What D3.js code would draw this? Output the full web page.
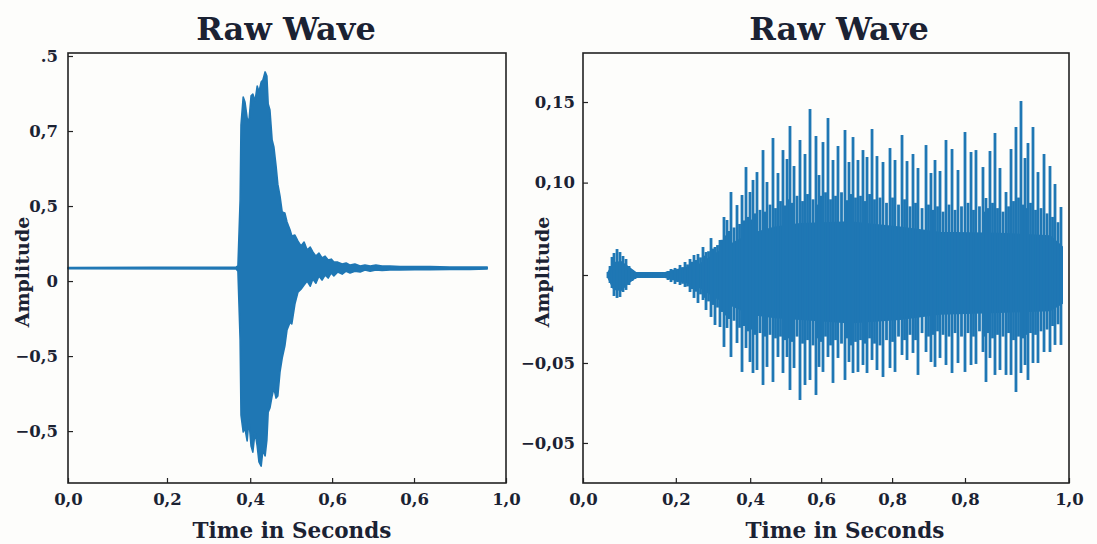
<!DOCTYPE html>
<html>
<head>
<meta charset="utf-8">
<script src="https://cdn.jsdelivr.net/npm/d3@7/dist/d3.min.js"></script>
<style>
  body { margin: 0; background: #fdfdfb; }
  svg { display: block; }
  text { font-family: 'DejaVu Serif', serif; font-weight: bold; fill: #1b2233; }
</style>
</head>
<body>
<svg id="chart" width="1097" height="544"></svg>
<script>
// left panel: peak (min/max) data per time bin
const leftTime = [0, 0.384, 0.388, 0.393, 0.395, 0.400, 0.404, 0.409, 0.413, 0.418,
  0.422, 0.427, 0.432, 0.436, 0.441, 0.445, 0.450, 0.454, 0.457, 0.461,
  0.466, 0.470, 0.475, 0.479, 0.484, 0.489, 0.495, 0.500, 0.507, 0.511,
  0.518, 0.525, 0.532, 0.539, 0.546, 0.553, 0.559, 0.566, 0.573, 0.580,
  0.587, 0.594, 0.601, 0.607, 0.616, 0.626, 0.635, 0.644, 0.655, 0.667,
  0.678, 0.690, 0.703, 0.717, 0.735, 0.758, 0.792, 0.827, 0.872, 0.918, 0.957];
const leftHigh = [0.045, 0.047, 0.050, 0.270, 0.520, 0.613, 0.597, 0.543, 0.530, 0.617,
  0.623, 0.600, 0.650, 0.630, 0.663, 0.670, 0.697, 0.683, 0.590, 0.570,
  0.470, 0.447, 0.383, 0.323, 0.283, 0.230, 0.227, 0.197, 0.170, 0.150,
  0.153, 0.133, 0.117, 0.130, 0.103, 0.113, 0.097, 0.083, 0.093, 0.077,
  0.083, 0.070, 0.073, 0.063, 0.063, 0.057, 0.060, 0.053, 0.057, 0.050,
  0.053, 0.050, 0.053, 0.050, 0.050, 0.048, 0.048, 0.048, 0.047, 0.047, 0.047];
const leftLow = [0.041, 0.040, 0.033, -0.197, -0.447, -0.503, -0.490, -0.533, -0.463, -0.550,
  -0.570, -0.503, -0.550, -0.603, -0.617, -0.563, -0.583, -0.530, -0.437, -0.423,
  -0.383, -0.357, -0.390, -0.383, -0.303, -0.257, -0.217, -0.163, -0.137, -0.143,
  -0.077, -0.037, -0.027, -0.013, 0.000, -0.017, 0.007, -0.007, 0.017, 0.003,
  0.020, 0.010, 0.027, 0.017, 0.030, 0.023, 0.033, 0.027, 0.033, 0.030,
  0.037, 0.033, 0.037, 0.035, 0.037, 0.037, 0.038, 0.038, 0.039, 0.039, 0.040];

// right panel: main spike peaks
const rightTime = [0.0514, 0.0556, 0.0597, 0.0638, 0.0700, 0.0761, 0.0823, 0.0885, 0.0947, 0.1008,
  0.1070, 0.1152, 0.1255, 0.1358, 0.1461, 0.1564, 0.1667, 0.1749, 0.1811, 0.1893,
  0.1996, 0.2099, 0.2202, 0.2284, 0.2366, 0.2469, 0.2531, 0.2634, 0.2716, 0.2819,
  0.2901, 0.2963, 0.3045, 0.3169, 0.3272, 0.3354, 0.3436, 0.3498, 0.3580, 0.3704,
  0.3786, 0.3909, 0.4012, 0.4115, 0.4198, 0.4259, 0.4342, 0.4465, 0.4568, 0.4671,
  0.4794, 0.4856, 0.4938, 0.5041, 0.5144, 0.5247, 0.5391, 0.5473, 0.5556, 0.5658,
  0.5761, 0.5844, 0.5947, 0.6049, 0.6173, 0.6317, 0.6420, 0.6564, 0.6667, 0.6790,
  0.6893, 0.7058, 0.7160, 0.7243, 0.7346, 0.7469, 0.7593, 0.7716, 0.7860, 0.7984,
  0.8086, 0.8230, 0.8292, 0.8374, 0.8477, 0.8580, 0.8704, 0.8807, 0.8909, 0.9012,
  0.9095, 0.9156, 0.9259, 0.9362, 0.9486, 0.9609, 0.9712, 0.9835];
const rightHigh = [0.0034, 0.0102, 0.0205, 0.0250, 0.0295, 0.0261, 0.0216, 0.0182, 0.0102, 0.0057,
  0.0034, 0.0023, 0.0023, 0.0023, 0.0017, 0.0023, 0.0034, 0.0045, 0.0068, 0.0080,
  0.0114, 0.0148, 0.0182, 0.0227, 0.0239, 0.0318, 0.0261, 0.0420, 0.0318, 0.0398,
  0.0659, 0.0625, 0.0943, 0.0795, 0.0909, 0.1227, 0.0943, 0.1080, 0.1170, 0.1420,
  0.1057, 0.1557, 0.1159, 0.1420, 0.1318, 0.1693, 0.1239, 0.1534, 0.1375, 0.1886,
  0.1580, 0.1136, 0.1511, 0.1784, 0.1307, 0.1466, 0.1648, 0.1284, 0.1568, 0.1307,
  0.1420, 0.1341, 0.1659, 0.1352, 0.1284, 0.1443, 0.1307, 0.1591, 0.1295, 0.1375,
  0.1216, 0.1477, 0.1159, 0.1307, 0.1182, 0.1534, 0.1432, 0.1193, 0.1625, 0.1398,
  0.1420, 0.1227, 0.0875, 0.1409, 0.1614, 0.1216, 0.0943, 0.1432, 0.1682, 0.1977,
  0.1330, 0.1500, 0.1682, 0.1170, 0.1375, 0.1239, 0.1034, 0.0773];
const rightLow = [-0.0034, -0.0091, -0.0148, -0.0239, -0.0261, -0.0250, -0.0193, -0.0170, -0.0114, -0.0068,
  -0.0045, -0.0034, -0.0028, -0.0023, -0.0023, -0.0028, -0.0034, -0.0057, -0.0080, -0.0102,
  -0.0114, -0.0136, -0.0193, -0.0261, -0.0318, -0.0284, -0.0398, -0.0477, -0.0568, -0.0591,
  -0.0818, -0.0602, -0.0932, -0.0773, -0.1102, -0.0830, -0.0989, -0.1114, -0.1080, -0.1250,
  -0.1045, -0.1216, -0.0932, -0.1114, -0.0932, -0.1307, -0.1057, -0.1420, -0.1250, -0.1193,
  -0.1364, -0.1045, -0.1102, -0.0932, -0.1227, -0.0943, -0.1193, -0.0989, -0.1114, -0.1102,
  -0.1023, -0.1114, -0.0966, -0.1080, -0.1159, -0.1057, -0.1102, -0.0909, -0.0966, -0.0886,
  -0.1136, -0.0875, -0.0989, -0.1045, -0.0943, -0.1023, -0.1114, -0.1000, -0.1102, -0.1023,
  -0.1011, -0.0875, -0.1216, -0.0943, -0.1136, -0.1080, -0.1136, -0.1136, -0.1330, -0.1114,
  -0.1023, -0.1193, -0.1000, -0.1000, -0.0875, -0.0875, -0.0795, -0.0795];
// right panel: shorter peaks between the main ones
const minorTime = [0.1780, 0.1852, 0.1945, 0.2048, 0.2151, 0.2243, 0.2325, 0.2418, 0.2500, 0.2583,
  0.2675, 0.2768, 0.2860, 0.2932, 0.3004, 0.3107, 0.3221, 0.3313, 0.3395, 0.3467,
  0.3539, 0.3642, 0.3745, 0.3848, 0.3961, 0.4064, 0.4157, 0.4229, 0.4301, 0.4404,
  0.4517, 0.4620, 0.4733, 0.4825, 0.4897, 0.4990, 0.5093, 0.5196, 0.5319, 0.5432,
  0.5515, 0.5607, 0.5710, 0.5803, 0.5896, 0.5998, 0.6111, 0.6245, 0.6369, 0.6492,
  0.6616, 0.6729, 0.6842, 0.6976, 0.7109, 0.7202, 0.7295, 0.7408, 0.7531, 0.7655,
  0.7788, 0.7922, 0.8035, 0.8158, 0.8261, 0.8333, 0.8426, 0.8529, 0.8642, 0.8756,
  0.8858, 0.8961, 0.9054, 0.9126, 0.9208, 0.9311, 0.9424, 0.9548, 0.9661, 0.9774];
const minorHigh = [0.004, 0.006, 0.007, 0.009, 0.012, 0.015, 0.017, 0.020, 0.022, 0.027,
  0.030, 0.034, 0.040, 0.045, 0.050, 0.054, 0.058, 0.062, 0.066, 0.063,
  0.070, 0.074, 0.072, 0.080, 0.076, 0.084, 0.079, 0.086, 0.082, 0.090,
  0.084, 0.092, 0.086, 0.080, 0.090, 0.094, 0.086, 0.090, 0.094, 0.085,
  0.092, 0.088, 0.090, 0.084, 0.092, 0.086, 0.088, 0.082, 0.088, 0.080,
  0.086, 0.078, 0.082, 0.076, 0.080, 0.074, 0.078, 0.072, 0.080, 0.074,
  0.078, 0.082, 0.074, 0.078, 0.072, 0.076, 0.082, 0.076, 0.072, 0.078,
  0.084, 0.088, 0.080, 0.076, 0.082, 0.074, 0.076, 0.070, 0.066, 0.060];
const minorLow = [-0.005, -0.006, -0.008, -0.010, -0.013, -0.016, -0.019, -0.022, -0.026, -0.030,
  -0.034, -0.037, -0.042, -0.046, -0.050, -0.052, -0.060, -0.058, -0.064, -0.062,
  -0.068, -0.066, -0.070, -0.068, -0.072, -0.070, -0.074, -0.072, -0.076, -0.070,
  -0.078, -0.074, -0.080, -0.072, -0.076, -0.070, -0.080, -0.074, -0.078, -0.072,
  -0.080, -0.076, -0.074, -0.078, -0.072, -0.078, -0.080, -0.074, -0.076, -0.070,
  -0.074, -0.068, -0.074, -0.066, -0.070, -0.068, -0.064, -0.068, -0.070, -0.066,
  -0.070, -0.066, -0.070, -0.064, -0.070, -0.066, -0.072, -0.068, -0.070, -0.066,
  -0.074, -0.070, -0.072, -0.068, -0.066, -0.068, -0.064, -0.062, -0.058, -0.056];
// right panel: the dense body of the signal (solid band)
const rightCoreTime = [0.0514, 0.0638, 0.0782, 0.0926, 0.1091, 0.1687, 0.2058, 0.2407, 0.2757, 0.3086,
  0.3436, 0.3951, 0.4465, 0.5494, 0.6523, 0.7346, 0.8580, 0.9609, 0.9856];
const rightCoreHigh = [0.0023, 0.0136, 0.0148, 0.0091, 0.0023, 0.0023, 0.0070, 0.0120, 0.0250, 0.0360,
  0.0460, 0.0540, 0.0580, 0.0600, 0.0540, 0.0480, 0.0470, 0.0440, 0.0320];
const rightCoreLow = [-0.0023, -0.0159, -0.0170, -0.0091, -0.0023, -0.0023, -0.0070, -0.0140, -0.0260, -0.0350,
  -0.0440, -0.0480, -0.0500, -0.0540, -0.0500, -0.0440, -0.0420, -0.0400, -0.0320];

// tick values and the labels printed under them
const leftXTicks = [0, 0.226, 0.416, 0.603, 0.790, 1.0];
const leftXLabels = ['0,0', '0,2', '0,4', '0,6', '0,6', '1,0'];
const leftYTicks = [0.75, 0.5, 0.25, 0, -0.25, -0.5];
const leftYLabels = ['.5', '0,7', '0,5', '0', '\u22120,5', '\u22120,5'];
const rightXTicks = [0, 0.191, 0.344, 0.490, 0.636, 0.786, 1.0];
const rightXLabels = ['0,0', '0,2', '0,4', '0,6', '0,8', '0,8', '1,0'];
const rightYTicks = [0.1966, 0.105, 0, -0.1, -0.1909];
const rightYLabels = ['0,15', '0,10', '', '\u22120,05', '\u22120,05'];

const svg = d3.select('#chart');
const waveColor = '#1f77b4';

const toRows = (time, high, low) => time.map((t, i) => ({ t, hi: high[i], lo: low[i] }));

const drawSpikes = (parent, rows, x, y, width, cls) => {
  parent.selectAll(`.${cls}`)
    .data(rows)
    .enter().append('line')
    .attr('class', cls)
    .attr('x1', d => x(d.t))
    .attr('x2', d => x(d.t))
    .attr('y1', d => y(d.hi))
    .attr('y2', d => y(d.lo))
    .attr('stroke', waveColor)
    .attr('stroke-width', width);
};

const drawPanel = (cfg) => {
  let x = d3.scaleLinear().domain([0, 1]).range([cfg.left, cfg.right]);
  let y = d3.scaleLinear().domain(cfg.yDomain).range([cfg.bottom, cfg.top]);
  let g = svg.append('g');
  let wave = g.append('g').attr('class', 'wave');
  let band = d3.area().x(d => x(d.t)).y0(d => y(d.lo)).y1(d => y(d.hi));

  if (cfg.core) {
    // solid body + vertical strokes per peak
    wave.append('path')
      .attr('d', band(toRows(cfg.core.time, cfg.core.high, cfg.core.low)))
      .attr('fill', waveColor)
      .attr('stroke', waveColor)
      .attr('stroke-width', 2);
    drawSpikes(wave, toRows(cfg.minor.time, cfg.minor.high, cfg.minor.low), x, y, cfg.strokeWidth, 'minor');
    drawSpikes(wave, toRows(cfg.time, cfg.high, cfg.low), x, y, cfg.strokeWidth, 'spike');
  } else {
    // envelope as a filled band
    wave.append('path')
      .attr('d', band(toRows(cfg.time, cfg.high, cfg.low)))
      .attr('fill', waveColor)
      .attr('stroke', waveColor)
      .attr('stroke-width', cfg.strokeWidth)
      .attr('stroke-linejoin', 'round');
  }

  let xAxis = d3.axisBottom(x)
    .tickValues(cfg.xTicks)
    .tickFormat((d, i) => cfg.xLabels[i])
    .tickSizeInner(-5)
    .tickSizeOuter(0)
    .tickPadding(10);
  let yAxis = d3.axisLeft(y)
    .tickValues(cfg.yTicks)
    .tickFormat((d, i) => cfg.yLabels[i])
    .tickSizeInner(-5)
    .tickSizeOuter(0)
    .tickPadding(cfg.yPad);

  let gx = g.append('g').attr('transform', `translate(0,${cfg.bottom})`).call(xAxis);
  let gy = g.append('g').attr('transform', `translate(${cfg.left},0)`).call(yAxis);
  [gx, gy].forEach(a => {
    a.select('.domain').remove();
    a.selectAll('line').attr('stroke', '#222').attr('stroke-width', 1.2);
    a.selectAll('text')
      .style('font-family', "'DejaVu Serif', serif")
      .style('font-weight', 'bold')
      .style('font-size', '16.5px')
      .attr('fill', '#1b2233');
  });

  g.append('rect')
    .attr('x', cfg.left)
    .attr('y', cfg.top)
    .attr('width', cfg.right - cfg.left)
    .attr('height', cfg.bottom - cfg.top)
    .attr('fill', 'none')
    .attr('stroke', '#222')
    .attr('stroke-width', 1.6);

  g.append('text')
    .attr('x', cfg.titleX)
    .attr('y', 40)
    .attr('text-anchor', 'middle')
    .style('font-size', '32px')
    .text('Raw Wave');

  g.append('text')
    .attr('x', cfg.titleX + 6)
    .attr('y', 538)
    .attr('text-anchor', 'middle')
    .style('font-size', '21.5px')
    .text('Time in Seconds');

  g.append('text')
    .attr('transform', `translate(${cfg.yLabelX},272) rotate(-90)`)
    .attr('text-anchor', 'middle')
    .style('font-size', '19px')
    .text('Amplitude');
};

drawPanel({
  left: 68, right: 506, top: 53, bottom: 483,
  yDomain: [-0.673, 0.76],
  time: leftTime, high: leftHigh, low: leftLow,
  xTicks: leftXTicks, xLabels: leftXLabels,
  yTicks: leftYTicks, yLabels: leftYLabels,
  yPad: 10, strokeWidth: 1.6,
  titleX: 286, yLabelX: 29
});

drawPanel({
  left: 583, right: 1069, top: 53, bottom: 483,
  yDomain: [-0.2364, 0.2523],
  time: rightTime, high: rightHigh, low: rightLow,
  minor: { time: minorTime, high: minorHigh, low: minorLow },
  core: { time: rightCoreTime, high: rightCoreHigh, low: rightCoreLow },
  xTicks: rightXTicks, xLabels: rightXLabels,
  yTicks: rightYTicks, yLabels: rightYLabels,
  yPad: 8, strokeWidth: 2.8,
  titleX: 839, yLabelX: 549
});
</script>
</body>
</html>
